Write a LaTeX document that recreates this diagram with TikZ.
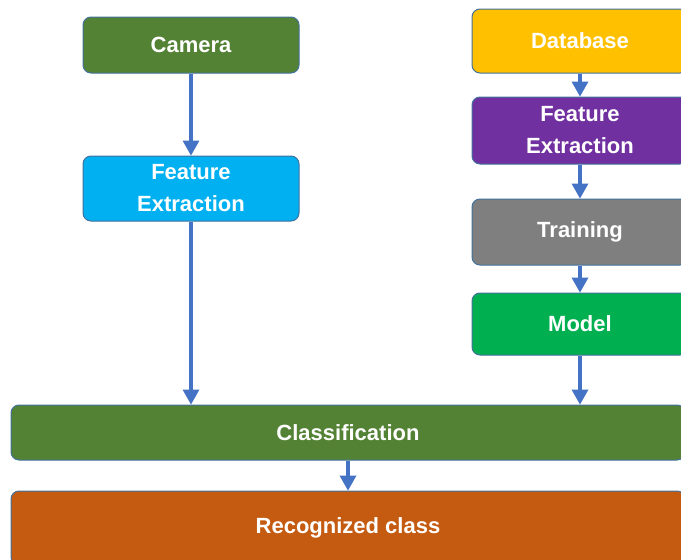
\documentclass[tikz,border=0pt]{standalone}
\usepackage{fontspec}
\setmainfont{Liberation Sans}
\usepackage{tikz}
\usetikzlibrary{arrows.meta}
\definecolor{olive}{HTML}{548235}
\definecolor{sky}{HTML}{00B0F0}
\definecolor{amber}{HTML}{FFC000}
\definecolor{plum}{HTML}{7030A0}
\definecolor{slate}{HTML}{7F7F7F}
\definecolor{leaf}{HTML}{00B050}
\definecolor{rust}{HTML}{C55A11}
\definecolor{boxline}{HTML}{41719C}
\definecolor{arrowblue}{HTML}{4472C4}

\begin{document}
\begin{tikzpicture}[x=1pt,y=-1pt,
    box/.style={draw=boxline, line width=1pt, rounded corners=8pt, text=white,
      font=\bfseries\fontsize{22}{32}\selectfont, align=center, inner sep=0pt,
      minimum width=216pt},
    arr/.style={color=arrowblue, line width=4pt,
      -{Triangle[width=17pt,length=15pt,line width=0pt]}}]
    \useasboundingbox (0,0) rectangle (681,560);
    \clip (0,0) rectangle (681,560);
    \node[box, fill=olive, minimum height=56pt] (cam) at (191,45) {Camera};
    \node[box, fill=sky, minimum height=65pt] (fe) at (191,188.5) {Feature\\Extraction};
    \node[box, fill=amber, minimum height=64pt] (db) at (580,41) {Database};
    \node[box, fill=plum, minimum height=67pt] (fe2) at (580,130.5) {Feature\\Extraction};
    \node[box, fill=slate, minimum height=66pt] (tr) at (580,232) {Training};
    \node[box, fill=leaf, minimum height=62pt] (mod) at (580,324) {Model};
    \node[box, fill=olive, minimum width=674pt, minimum height=55pt] (cls) at (348,432.5) {Classification};
    \node[box, fill=rust, minimum width=674pt, minimum height=74pt] (rec) at (348,528) {Recognized class};
    \draw[arr] (cam) edge (fe);
    \draw[arr] (fe.south) -- (fe.south |- cls.north);
    \draw[arr] (db) edge (fe2);
    \draw[arr] (fe2) edge (tr);
    \draw[arr] (tr) edge (mod);
    \draw[arr] (mod.south) -- (mod.south |- cls.north);
    \draw[arr] (cls) edge (rec);
\end{tikzpicture}
\end{document}
